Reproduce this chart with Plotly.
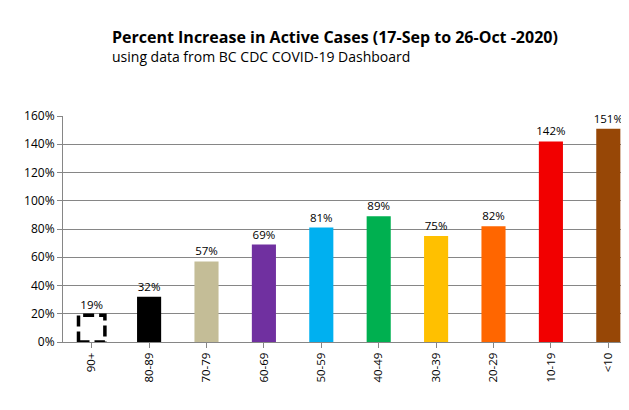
import plotly.graph_objects as go

categories = ["90+", "80-89", "70-79", "60-69", "50-59", "40-49", "30-39", "20-29", "10-19", "<10"]
values = [19, 32, 57, 69, 81, 89, 75, 82, 142, 151]
colors = ["rgba(255,255,255,0)", "#000000", "#C4BD97", "#7030A0", "#00B0F0",
          "#00B050", "#FFC000", "#FF6600", "#F20000", "#974706"]
y_ticks = [0, 20, 40, 60, 80, 100, 120, 140, 160]
y_tick_labels = [f"{v}%" for v in y_ticks]

BAR_W = 0.42
FONT = "Open Sans, DejaVu Sans, sans-serif"

# page body adds an 8px offset; the figure is laid out to compensate
L, T, PW, PH = 55, 108, 574, 226

fig = go.Figure()
fig.add_trace(go.Bar(
    x=list(range(len(categories))), y=values,
    width=BAR_W,
    marker=dict(color=colors, line=dict(width=0)),
    text=[f"{v}%" for v in values], textposition="outside",
    constraintext="none",
    textfont=dict(size=11.5, color="#000000", family=FONT),
    cliponaxis=False,
    showlegend=False,
))

# dashed outline for the first (hollow) bar, derived from data
fig.add_shape(type="rect", xref="x", yref="y",
              x0=0 - BAR_W / 2 - 0.02, x1=0 + BAR_W / 2 + 0.02,
              y0=0, y1=values[0],
              line=dict(color="#000000", width=3.5, dash="11px,5px"),
              fillcolor="rgba(0,0,0,0)", layer="above")

fig.update_layout(
    width=629, height=410,
    margin=dict(l=L, r=0, t=T, b=410 - T - PH, autoexpand=False),
    paper_bgcolor="white", plot_bgcolor="white",
    font=dict(family=FONT, size=11, color="#000000"),
    annotations=[
        dict(text="<b>Percent Increase in Active Cases (17-Sep to 26-Oct -2020)</b>",
             xref="paper", yref="paper", x=(102 - L) / PW, y=1 + (T - 29) / PH,
             xanchor="left", yanchor="middle", showarrow=False,
             font=dict(size=16, family=FONT, color="#000000")),
        dict(text="using data from BC CDC COVID-19 Dashboard",
             xref="paper", yref="paper", x=(102 - L) / PW, y=1 + (T - 49) / PH,
             xanchor="left", yanchor="middle", showarrow=False,
             font=dict(size=14, family=FONT, color="#000000")),
    ],
)
fig.update_xaxes(
    tickmode="array", tickvals=list(range(len(categories))), ticktext=categories,
    range=[-0.5, 9.5], tickangle=-90, automargin=False,
    showline=True, linecolor="#868686", linewidth=1,
    ticks="outside", ticklen=5, tickcolor="#868686",
    showgrid=False, zeroline=False,
    tickfont=dict(size=11.5, family=FONT),
)
fig.update_yaxes(
    range=[0, 160], tickmode="array", tickvals=y_ticks, ticktext=y_tick_labels,
    showgrid=True, gridcolor="#868686", gridwidth=1, automargin=False,
    showline=True, linecolor="#868686", linewidth=1,
    ticks="outside", ticklen=5, tickcolor="#868686",
    zeroline=False, tickfont=dict(size=12, family=FONT),
)

fig.write_html("out.html")
